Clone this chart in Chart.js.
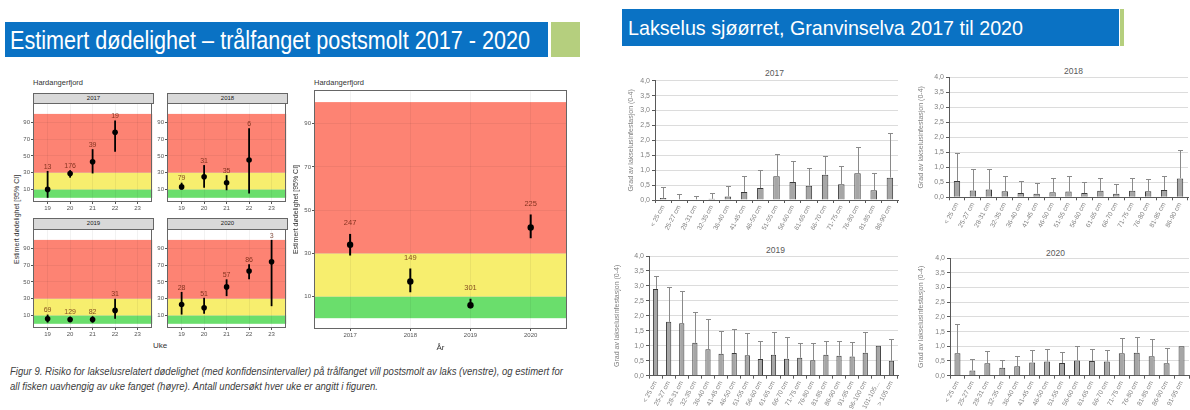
<!DOCTYPE html>
<html><head><meta charset="utf-8">
<script src="https://cdn.jsdelivr.net/npm/chart.js@4.4.1/dist/chart.umd.min.js"></script>
<style>
html,body{margin:0;padding:0;background:#fff;width:1190px;height:410px;overflow:hidden;position:relative;font-family:"Liberation Sans",Arial,sans-serif;}
canvas{position:absolute;}
.box{position:absolute;box-sizing:border-box;}
.txt{position:absolute;white-space:nowrap;transform-origin:0 0;line-height:1;}
.strip{position:absolute;box-sizing:border-box;background:#d9d9d9;border:1px solid #666;font-size:6px;color:#1a1a1a;text-align:center;line-height:8px;}
</style></head>
<body>
<!-- left slide -->
<div class="box" style="left:5px;top:22px;width:543px;height:35px;background:#0a72c4;"></div>
<div class="box" style="left:551px;top:22px;width:29px;height:35px;background:#b5cf7e;"></div>
<div class="txt fit" data-w="520" style="left:10px;top:28px;font-size:25px;color:#fff;">Estimert dødelighet – trålfanget postsmolt 2017 - 2020</div>
<div class="txt" style="left:33px;top:79px;font-size:7.5px;color:#333;">Hardangerfjord</div>
<div class="txt" style="left:314px;top:79px;font-size:7.5px;color:#333;">Hardangerfjord</div>
<div class="strip" style="left:33px;top:93px;width:121px;height:11px;">2017</div>
<div class="strip" style="left:167px;top:93px;width:121px;height:11px;">2018</div>
<div class="strip" style="left:33px;top:218px;width:121px;height:12px;">2019</div>
<div class="strip" style="left:167px;top:218px;width:121px;height:12px;">2020</div>
<div class="txt" style="left:13px;top:264px;font-size:7px;color:#333;transform:rotate(-90deg);">Estimert dødelighet [95% CI]</div>
<div class="txt" style="left:153px;top:342px;font-size:8px;color:#333;">Uke</div>
<canvas id="p2017" width="136" height="119" style="left:19px;top:97px;"></canvas>
<canvas id="p2018" width="136" height="119" style="left:153px;top:97px;"></canvas>
<canvas id="p2019" width="136" height="119" style="left:19px;top:223px;"></canvas>
<canvas id="p2020" width="136" height="119" style="left:153px;top:223px;"></canvas>
<canvas id="pAll" width="280" height="271" style="left:290px;top:84px;"></canvas>
<div class="txt fit" data-w="553" style="left:10px;top:366px;font-size:10.5px;font-style:italic;color:#404040;">Figur 9. Risiko for lakselusrelatert dødelighet (med konfidensintervaller) på trålfanget vill postsmolt av laks (venstre), og estimert for</div>
<div class="txt fit" data-w="368" style="left:10px;top:381px;font-size:10.5px;font-style:italic;color:#404040;">all fisken uavhengig av uke fanget (høyre). Antall undersøkt hver uke er angitt i figuren.</div>

<!-- right slide -->
<div class="box" style="left:622px;top:9px;width:497px;height:37px;background:#0a72c4;"></div>
<div class="box" style="left:1120px;top:9px;width:4px;height:37px;background:#b5cf7e;"></div>
<div class="txt fit" data-w="395" style="left:628px;top:17px;font-size:21px;color:#fff;">Lakselus sjøørret, Granvinselva 2017 til 2020</div>
<div class="txt" style="left:765px;top:69px;font-size:8.5px;color:#595959;">2017</div>
<div class="txt" style="left:1064px;top:67px;font-size:8.5px;color:#595959;">2018</div>
<div class="txt" style="left:766px;top:246px;font-size:8.5px;color:#595959;">2019</div>
<div class="txt" style="left:1046px;top:249px;font-size:8.5px;color:#595959;">2020</div>
<canvas id="r2017" width="273" height="175" style="left:627px;top:70px;"></canvas>
<canvas id="r2018" width="273" height="178" style="left:917px;top:67px;"></canvas>
<canvas id="r2019" width="287" height="164" style="left:613px;top:246px;"></canvas>
<canvas id="r2020" width="273" height="162" style="left:917px;top:248px;"></canvas>

<script>
// ---------- data: estimated mortality (left slide) ----------
const weeks = [19, 20, 21, 22, 23];
const riskTicks = [10, 30, 50, 70, 90];
const riskLimits = [0, 10, 30, 100];

const est2017 = [10, 29, 43, 78];
const lo2017 = [0, 24, 29, 55];
const hi2017 = [32, 33, 58, 92];
const n2017 = ['13', '176', '39', '19'];

const est2018 = [13, 25, 18, 45];
const lo2018 = [10, 12, 9, 5];
const hi2018 = [18, 39, 27, 83];
const n2018 = ['79', '31', '35', '6'];

const est2019 = [6, 5, 5, 16];
const lo2019 = [1.5, 3, 1.5, 6];
const hi2019 = [11, 8.5, 9, 30];
const n2019 = ['69', '129', '82', '31'];

const est2020 = [23, 19, 44, 63, 74];
const lo2020 = [11, 12, 33, 53, 21];
const hi2020 = [38, 31, 53, 71, 100];
const n2020 = ['28', '51', '57', '86', '3'];

const years = [2017, 2018, 2019, 2020];
const estAll = [34, 17, 6, 42];
const loAll = [29, 12, 4.6, 37];
const hiAll = [39, 23, 9, 48];
const nAll = ['247', '149', '301', '225'];

// ---------- data: sea lice on sea trout (right slide) ----------
const sizes15 = ['< 25 cm','25-27 cm','28-31 cm','32-35 cm','36-40 cm','41-45 cm','46-50 cm','51-55 cm','56-60 cm','61-65 cm','66-70 cm','71-75 cm','76-80 cm','81-85 cm','86-90 cm'];
const sizes19 = ['< 25 cm','25-27 cm','28-31 cm','32-35 cm','36-40 cm','41-45 cm','46-50 cm','51-55 cm','56-60 cm','61-65 cm','66-70 cm','71-75 cm','76-80 cm','81-85 cm','86-90 cm','91-95 cm','96-100 cm','101-105…','> 105 cm'];
const sizes20 = ['< 25 cm','25-27 cm','28-31 cm','32-35 cm','36-40 cm','41-45 cm','46-50 cm','51-55 cm','56-60 cm','61-65 cm','66-70 cm','71-75 cm','76-80 cm','81-85 cm','86-90 cm','91-95 cm'];

const lice2017 = [0.07,0.02,0.02,0.04,0.12,0.27,0.40,0.80,0.60,0.48,0.85,0.53,0.90,0.33,0.75];
const sd2017   = [0.36,0.18,0.13,0.21,0.35,0.55,0.60,0.75,0.70,0.59,0.62,0.60,0.88,0.59,1.50];
const lice2018 = [0.54,0.23,0.26,0.20,0.14,0.12,0.17,0.19,0.14,0.22,0.12,0.22,0.20,0.24,0.63];
const sd2018   = [0.95,0.73,0.69,0.52,0.42,0.36,0.49,0.51,0.36,0.41,0.32,0.43,0.40,0.48,0.94];
const lice2019 = [2.90,1.80,1.75,1.10,0.88,0.73,0.76,0.68,0.56,0.70,0.57,0.60,0.52,0.70,0.67,0.64,0.77,1.00,0.50];
const sd2019   = [0.43,1.15,1.08,1.02,1.00,0.77,0.79,0.75,0.60,0.75,0.71,0.50,0.56,0.47,0.49,0.50,0.70,0.00,0.72];
const lice2020 = [0.76,0.18,0.42,0.27,0.32,0.45,0.48,0.43,0.52,0.50,0.48,0.76,0.78,0.66,0.42,1.00];
const sd2020   = [0.99,0.38,0.42,0.28,0.36,0.41,0.42,0.37,0.48,0.42,0.39,0.51,0.52,0.58,0.53,0.00];

// ---------- fit title/caption text widths ----------
document.querySelectorAll('.fit').forEach(el => {
  const w = el.getBoundingClientRect().width;
  const target = +el.dataset.w;
  el.style.transform = 'scaleX(' + (target / w) + ')';
});

Chart.defaults.font.family = '"Liberation Sans", Arial, sans-serif';
Chart.defaults.animation = false;

const bandColors = ['#6ade6c', '#f7ee6e', '#fd8373'];

const bandsPlugin = {
  id: 'bands',
  beforeDraw(chart) {
    const {ctx, chartArea: a, scales: {y}} = chart;
    ctx.save();
    for (let i = 0; i < riskLimits.length - 1; i++) {
      const yTop = y.getPixelForValue(riskLimits[i + 1]);
      const yBot = y.getPixelForValue(riskLimits[i]);
      ctx.fillStyle = bandColors[i];
      ctx.fillRect(a.left, yTop, a.width, yBot - yTop);
    }
    ctx.restore();
  },
  afterDraw(chart) {
    const {ctx, chartArea: a} = chart;
    ctx.save();
    ctx.strokeStyle = '#666';
    ctx.lineWidth = 1;
    ctx.strokeRect(Math.round(a.left) + 0.5, Math.round(a.top) + 0.5, Math.round(a.width) - 1, Math.round(a.height) - 1);
    ctx.restore();
  }
};

const ciPlugin = {
  id: 'ci',
  beforeDatasetsDraw(chart, args, opts) {
    const {ctx, scales: {y}} = chart;
    ctx.save();
    chart.data.datasets.forEach((ds, di) => {
      chart.getDatasetMeta(di).data.forEach((pt, i) => {
        ctx.beginPath();
        ctx.moveTo(pt.x, y.getPixelForValue(ds.lo[i]));
        ctx.lineTo(pt.x, y.getPixelForValue(ds.hi[i]));
        ctx.strokeStyle = '#000';
        ctx.lineWidth = opts.lineWidth;
        ctx.stroke();
      });
    });
    ctx.restore();
  },
  afterDatasetsDraw(chart, args, opts) {
    const {ctx, scales: {y}} = chart;
    ctx.save();
    ctx.font = opts.fontSize + 'px "Liberation Sans", Arial, sans-serif';
    ctx.fillStyle = 'rgba(95,25,5,0.78)';
    ctx.textAlign = 'center';
    ctx.textBaseline = 'middle';
    chart.data.datasets.forEach((ds, di) => {
      chart.getDatasetMeta(di).data.forEach((pt, i) => {
        ctx.fillText(ds.n[i], pt.x, y.getPixelForValue(ds.hi[i] + opts.nudge));
      });
    });
    ctx.restore();
  }
};

function riskChart(id, xs, est, lo, hi, n, c) {
  return new Chart(document.getElementById(id), {
    type: 'scatter',
    data: {datasets: [{
      data: est.map((v, i) => ({x: xs[i], y: v})),
      lo: lo, hi: hi, n: n,
      pointRadius: c.pointR, pointHoverRadius: c.pointR,
      backgroundColor: '#000', borderColor: '#000', borderWidth: 0
    }]},
    options: {
      responsive: false, devicePixelRatio: 1,
      layout: {padding: {top: c.padTop, right: c.padRight, left: 0, bottom: 0}},
      plugins: {legend: {display: false}, tooltip: {enabled: false},
        ci: {lineWidth: c.lineW, fontSize: c.labelSize, nudge: 5}},
      scales: {
        x: {type: 'linear', min: c.xmin, max: c.xmax,
          afterBuildTicks: s => { s.ticks = c.xticks.map(v => ({value: v})); },
          afterFit: s => { s.height = c.xAxisH; },
          ticks: {font: {size: c.tickSize}, color: '#555', padding: 1, callback: v => String(v), autoSkip: false, maxRotation: 0},
          grid: {color: 'rgba(0,0,0,0.05)', tickColor: '#555', tickLength: 2},
          border: {display: false},
          title: {display: !!c.xTitle, text: c.xTitle || '', font: {size: 8}, color: '#333', padding: {top: 0, bottom: 2}}
        },
        y: {min: c.ymin, max: c.ymax,
          afterBuildTicks: s => { s.ticks = riskTicks.map(v => ({value: v})); },
          afterFit: s => { s.width = c.yAxisW; },
          ticks: {font: {size: c.tickSize}, color: '#555', padding: 1},
          grid: {color: 'rgba(0,0,0,0.05)', tickColor: '#555', tickLength: 2},
          border: {display: false},
          title: {display: !!c.yTitle, text: c.yTitle || '', font: {size: 7}, color: '#333', padding: {top: 2, bottom: 0}}
        }
      }
    },
    plugins: [bandsPlugin, ciPlugin]
  });
}

const small = {xmin: 18.35, xmax: 23.65, ymin: -5, ymax: 113, xticks: weeks, pointR: 2.8, lineW: 1.8,
  labelSize: 7, tickSize: 6, padTop: 6, padRight: 2, yAxisW: 14, xAxisH: 14};
riskChart('p2017', weeks, est2017, lo2017, hi2017, n2017, small);
riskChart('p2018', weeks, est2018, lo2018, hi2018, n2018, small);
riskChart('p2019', weeks, est2019, lo2019, hi2019, n2019, small);
riskChart('p2020', weeks, est2020, lo2020, hi2020, n2020, small);
riskChart('pAll', years, estAll, loAll, hiAll, nAll, {xmin: 2016.4, xmax: 2020.6, ymin: -5, ymax: 105.6, xticks: years,
  pointR: 3.2, lineW: 2, labelSize: 7.5, tickSize: 6, padTop: 6, padRight: 2, yAxisW: 24, xAxisH: 26,
  xTitle: 'År', yTitle: 'Estimert dødelighet [95% CI]'});

// ---------- bar charts ----------
const sdPlugin = {
  id: 'sd',
  afterDatasetsDraw(chart) {
    const {ctx, scales: {y}} = chart;
    const ds = chart.data.datasets[0];
    ctx.save();
    ctx.strokeStyle = '#8a8a8a';
    ctx.lineWidth = 1;
    chart.getDatasetMeta(0).data.forEach((bar, i) => {
      const e = ds.err[i];
      if (!e) return;
      const yt = Math.round(y.getPixelForValue(ds.data[i] + e)) + 0.5;
      const x = Math.round(bar.x) + 0.5;
      ctx.beginPath();
      ctx.moveTo(x, bar.y);
      ctx.lineTo(x, yt);
      ctx.moveTo(x - 2.5, yt);
      ctx.lineTo(x + 2.5, yt);
      ctx.stroke();
    });
    ctx.restore();
  }
};

function liceChart(id, cats, vals, err, c) {
  return new Chart(document.getElementById(id), {
    type: 'bar',
    data: {labels: cats, datasets: [{data: vals, err: err,
      backgroundColor: '#a6a6a6', borderColor: '#3a3a3a', borderWidth: 1,
      barPercentage: 0.4, categoryPercentage: 1}]},
    options: {
      responsive: false, devicePixelRatio: 1,
      layout: {padding: {top: c.padTop, right: c.padRight, left: 0, bottom: 0}},
      plugins: {legend: {display: false}, tooltip: {enabled: false}},
      scales: {
        x: {
          afterFit: s => { s.height = c.xAxisH; },
          ticks: {font: {size: 6.5}, color: '#808080', autoSkip: false, maxRotation: 62, minRotation: 62, padding: 1},
          grid: {display: true, drawOnChartArea: false, tickLength: 3, color: '#595959', offset: true},
          border: {color: '#595959'}
        },
        y: {min: 0, max: 4,
          afterFit: s => { s.width = c.yAxisW; },
          ticks: {stepSize: 0.5, font: {size: 7}, color: '#808080', padding: 2,
            callback: v => v.toFixed(1).replace('.', ',')},
          grid: {color: '#dcdcdc', tickColor: '#595959', tickLength: 3},
          border: {color: '#595959'},
          title: {display: true, text: 'Grad av lakselusinfestasjon (0-4)', font: {size: 7}, color: '#808080', padding: {top: 0, bottom: 0}}
        }
      }
    },
    plugins: [sdPlugin]
  });
}

liceChart('r2017', sizes15, lice2017, sd2017, {padTop: 10.7, padRight: 2, yAxisW: 28, xAxisH: 45});
liceChart('r2018', sizes15, lice2018, sd2018, {padTop: 10.3, padRight: 2, yAxisW: 32, xAxisH: 47.7});
liceChart('r2019', sizes19, lice2019, sd2019, {padTop: 10, padRight: 2, yAxisW: 36, xAxisH: 34.3});
liceChart('r2020', sizes20, lice2020, sd2020, {padTop: 10, padRight: 1, yAxisW: 33, xAxisH: 34.3});
</script>
</body></html>
